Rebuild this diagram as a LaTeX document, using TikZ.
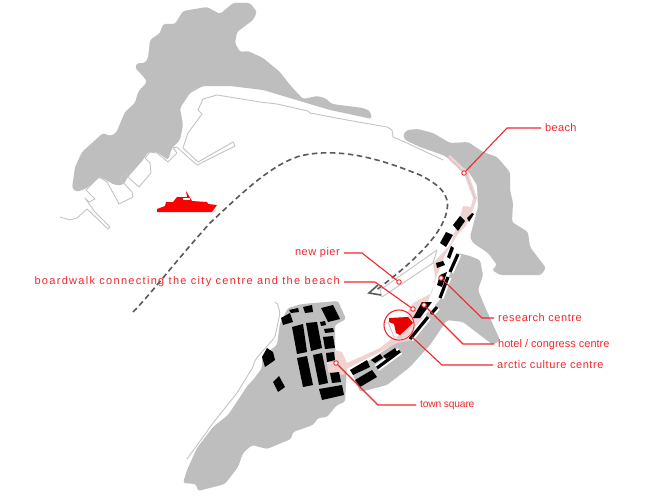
\documentclass[tikz,border=0pt]{standalone}
\usepackage{fontspec}
\setmainfont{Liberation Sans}
\definecolor{land}{HTML}{BEBEBE}
\definecolor{shore}{HTML}{C4C4C4}
\definecolor{prom}{HTML}{EFD3D3}
\definecolor{lab}{HTML}{F0282D}
\definecolor{redf}{HTML}{E60000}
\newcommand{\ls}[1]{\fontsize{11}{13}\selectfont\addfontfeature{LetterSpace=#1}}
\newcommand{\lsb}[1]{\fontsize{10.3}{13}\selectfont\addfontfeature{LetterSpace=#1}}
\tikzset{
 landf/.style={fill=land,draw=none,rounded corners=2.5pt},
 shoreline/.style={draw=shore,line width=.9pt,line join=round,fill=none},
 bld/.style={fill=black,draw=none},
 seaw/.style={draw=black,line width=3.2pt},
 seag/.style={draw=white,line width=7pt},
 leader/.style={draw=lab,line width=1.1pt},
 pin/.style={circle,draw=lab,fill=white,line width=.9pt,inner sep=0pt,minimum size=4.5pt},
 lbl/.style={text=lab,inner sep=0pt},
}
\begin{document}
\begin{tikzpicture}[x=1pt,y=-1pt]
\useasboundingbox (0,0) rectangle (660,495);
\fill[white] (0,0) rectangle (660,495);
% NW land
\path[landf] (72,188) -- (75,167) -- (82,152) -- (103,133) -- (110,136) -- (116,133) -- (125,112) -- (135,103) -- (138,92) -- (147,82) -- (143,76) -- (135,68) -- (137,63) -- (145,63) -- (148,58) -- (150,40) -- (160,33) -- (163,24) -- (175,24) -- (183,11) -- (207,7) -- (220,14) -- (233,3) -- (250,3) -- (257,12) -- (253,20) -- (237,32) -- (235,43) -- (240,52) -- (248,51) -- (263,58) -- (280,72) -- (290,85) -- (303,99) -- (317,96) -- (325,98) -- (332,104) -- (363,108) -- (370,111) -- (372,119) -- (330,110) -- (303,102) -- (263,90) -- (230,86) -- (203,86) -- (190,93) -- (180,108) -- (183,125) -- (180,140) -- (172,148) -- (168,160) -- (157,152) -- (148,152) -- (143,160) -- (128,177) -- (123,185) -- (115,185) -- (100,177) -- (87,188) -- (77,192) -- cycle;
% NE land
\path[landf] (403,135) -- (407,130) -- (418,129) -- (433,133) -- (450,143) -- (468,142) -- (483,152) -- (497,157) -- (510,172) -- (510,190) -- (513,203) -- (512,222) -- (528,232) -- (530,247) -- (546,268) -- (541,275) -- (500,275) -- (492,270) -- (497,265) -- (488,253) -- (473,243) -- (470,237) -- (478,207) -- (477,185) -- (468,171) -- (443,155) -- (420,147) -- (405,140) -- cycle;
% SE land
\path[landf] (458,253) -- (470,256) -- (480,260) -- (483,275) -- (478,290) -- (485,307) -- (500,340) -- (493,345) -- (463,322) -- (447,320) -- (430,345) -- (410,367) -- (387,385) -- (360,392) -- (352,372) -- (400,340) -- (440,300) -- cycle;
% town land
\path[landf] (288,308) -- (302,304) -- (338,301) -- (346,319) -- (335,325) -- (335,350) -- (347,365) -- (345,402) -- (337,405) -- (327,417) -- (318,418) -- (313,425) -- (293,432) -- (291,439) -- (267,449) -- (252,445) -- (243,453) -- (238,467) -- (225,484) -- (198,491) -- (196,484) -- (183,483) -- (187,470) -- (197,448) -- (213,427) -- (228,415) -- (248,385) -- (253,380) -- (262,368) -- (262,357) -- (277,345) -- (280,323) -- cycle;
% shore lines
\draw[shoreline] (183,148) -- (188,133) -- (202,114) -- (198,110) -- (203,99) -- (217,95) -- (260,102) -- (277,104) -- (308,111) -- (310,113) -- (347,120) -- (387,127) -- (392,130) -- (393,137) -- (407,143) -- (443,160);
\draw[shoreline] (173,148) -- (177,147) -- (180,150) -- (197,165) -- (235,146) -- (233,142) -- (198,162) -- (183,148);
\draw[shoreline] (173,148) -- (177,153) -- (168,162) -- (157,153) -- (150,152) -- (145,158) -- (150,163) -- (151,173) -- (139,187) -- (128,177) -- (126,173) -- (120,179) -- (132,192) -- (133,197) -- (119,204) -- (117,200) -- (107,182) -- (99,177) -- (86,190) -- (95,199) -- (89,202) -- (85,198) -- (95,212) -- (110,227) -- (108,229) -- (87,209) -- (77,218) -- (70,220) -- (60,217);
\draw[shoreline,rounded corners=2pt] (275,302) -- (277,302) -- (280,313) -- (275,337) -- (255,360) -- (253,367) -- (237,393) -- (213,423) -- (195,448) -- (187,459);
% promenade
\fill[prom] (447,158) -- (450,155) -- (468,172) -- (477,198) -- (474,207) -- (466,226) -- (458,234) -- (445,255) -- (437,275) -- (425,310) -- (412,340) -- (397,343) -- (378,353) -- (348,368) -- (343,375) -- (328,372) -- (327,362) -- (335,362) -- (335,350) -- (342,352) -- (347,363) -- (380,348) -- (390,340) -- (413,303) -- (432,293) -- (435,277) -- (433,263) -- (450,245) -- (460,217) -- (463,206) -- (471,207) -- (473,198) -- (464,174) -- cycle;
\draw[shoreline,line width=.6pt] (448,157) -- (466,174) -- (475,199);
% new pier
\draw[shoreline,fill=white] (380,290) -- (437,250) -- (433,263) -- (382,297) -- cycle;
% dashes along coast
\foreach \a/\b in {{(458,254)}/{(450,272)},{(448,277)}/{(440,298)},{(437,307)}/{(431,314)},{(428,317)}/{(410,339)},{(400,351)}/{(377,368)}}{
 \draw[seag] \a -- \b;
}
\foreach \a/\b in {{(458,254)}/{(450,272)},{(448,277)}/{(440,298)},{(437,307)}/{(431,314)},{(428,317)}/{(410,339)},{(400,351)}/{(377,368)}}{
 \draw[seaw] \a -- \b;
}
% buildings
\foreach \p in {
 {(453,225) -- (460,216) -- (465,221) -- (458,231)},
 {(467,218) -- (472,213) -- (474,214) -- (469,222)},
 {(440,243) -- (446,232) -- (453,235) -- (446,247)},
 {(447,257) -- (451,246) -- (454,248) -- (450,259)},
 {(436,263) -- (443,261) -- (445,265) -- (437,268)},
 {(437,285) -- (440,275) -- (447,272) -- (442,287)},
 {(413,318) -- (422,302) -- (432,302) -- (420,318)},
 {(350,370) -- (367,360) -- (370,367) -- (353,375)},
 {(355,380) -- (372,370) -- (377,377) -- (360,387)},
 {(371,360) -- (380,354) -- (383,358) -- (375,363)},
 {(383,356) -- (395,348) -- (397,352) -- (386,359)},
 {(281,318) -- (290,313) -- (293,322) -- (283,325)},
 {(289,310) -- (298,308) -- (299,312) -- (291,313)},
 {(303,307) -- (312,305) -- (313,312) -- (305,313)},
 {(321,308) -- (333,305) -- (340,319) -- (328,322)},
 {(320,322) -- (325,321) -- (326,325) -- (321,326)},
 {(324,329) -- (333,328) -- (334,332) -- (325,333)},
 {(323,337) -- (333,336) -- (335,348) -- (325,349)},
 {(326,353) -- (334,352) -- (335,360) -- (327,362)},
 {(330,373) -- (339,372) -- (341,382) -- (332,383)},
 {(319,389) -- (342,385) -- (344,395) -- (322,400)},
 {(292,327) -- (303,324) -- (307,352) -- (297,354)},
 {(306,323) -- (317,322) -- (322,348) -- (311,351)},
 {(297,358) -- (307,356) -- (313,385) -- (303,387)},
 {(313,355) -- (322,353) -- (328,383) -- (319,385)},
 {(262,357) -- (267,348) -- (273,352) -- (275,360) -- (265,367)},
 {(273,382) -- (279,376) -- (285,387) -- (278,392)}}{
 \path[bld] \p -- cycle;
}
% culture centre
\node[circle,draw=lab,fill=white,line width=1.1pt,minimum size=30pt,inner sep=0pt] (cc) at (399,325) {};
\begin{scope}
 \clip (399,325) circle (14.4);
 \fill[prom] (408,315) -- (416,320) -- (414,340) -- (396,340) -- cycle;
\end{scope}
\draw[shoreline] (388,322) -- (394,337) -- (402,337);
\fill[redf] (389,318) -- (408,317) -- (413,323) -- (400,335) -- (396,333) -- (394,324) -- (389,322) -- cycle;
% route
\draw[draw=black!65,line width=1.6pt,dash pattern=on 5.5pt off 3.5pt]
 (133,312) .. controls (150,295) and (175,262) .. (210,223) .. controls (240,195) and (270,165) .. (300,156) .. controls (345,145) and (395,165) .. (420,175) .. controls (440,185) and (450,195) .. (447,210) .. controls (443,235) and (410,265) .. (375,291);
\coordinate (tipA) at (378,285); \coordinate (tip) at (369,293); \coordinate (tipB) at (381,295);
\draw[black!65,line width=1.6pt] (tipA) -- (tip) -- (tipB);
% ferry
\fill[red] (157,212) -- (157,209) -- (165,206) -- (166,202) -- (173,202) -- (177,197) -- (187,197) -- (186,191) -- (192,201) -- (207,202) -- (208,204) -- (217,205) -- (212,212) -- cycle;
\fill[white] (183,198) rectangle (190,200);
% labels
\node[lbl,anchor=west,font=\ls{3}] (t1) at (545,128) {beach};
\node[lbl,anchor=east,font=\ls{4.7}] (t2) at (340,252.5) {new pier};
\node[lbl,anchor=east,font=\ls{11.8}] (t3) at (340,282) {boardwalk connecting the city centre and the beach};
\node[lbl,anchor=west,font=\ls{5}] (t4) at (498,318) {research centre};
\node[lbl,anchor=west,font=\ls{0}] (t5) at (498,345) {hotel / congress centre};
\node[lbl,anchor=west,font=\ls{5.2}] (t6) at (497,365) {arctic culture centre};
\node[lbl,anchor=west,font=\lsb{-2}] (t7) at (420,405) {town square};
% pins
\node[pin] (p1) at (464,173) {};
\node[pin] (p2) at (399,282) {};
\node[pin] (p3) at (413,309) {};
\node[pin] (p4) at (441,278) {};
\node[pin] (p5) at (424,305) {};
\node[pin] (p7) at (336,363) {};
\coordinate (e6) at (412,337);
% leaders
\draw[leader] (541,128) -- (507,128) -- (p1);
\draw[leader] (344,253) -- (362,253) -- (p2);
\draw[leader] (344,282) -- (375,282) -- (p3);
\draw[leader] (494,318) -- (482,318) -- (p4);
\draw[leader] (494,344) -- (463,344) -- (p5);
\draw[leader] (493,365) -- (442,365) -- (e6);
\draw[leader] (416,405) -- (378,405) -- (p7);
\end{tikzpicture}
\end{document}
